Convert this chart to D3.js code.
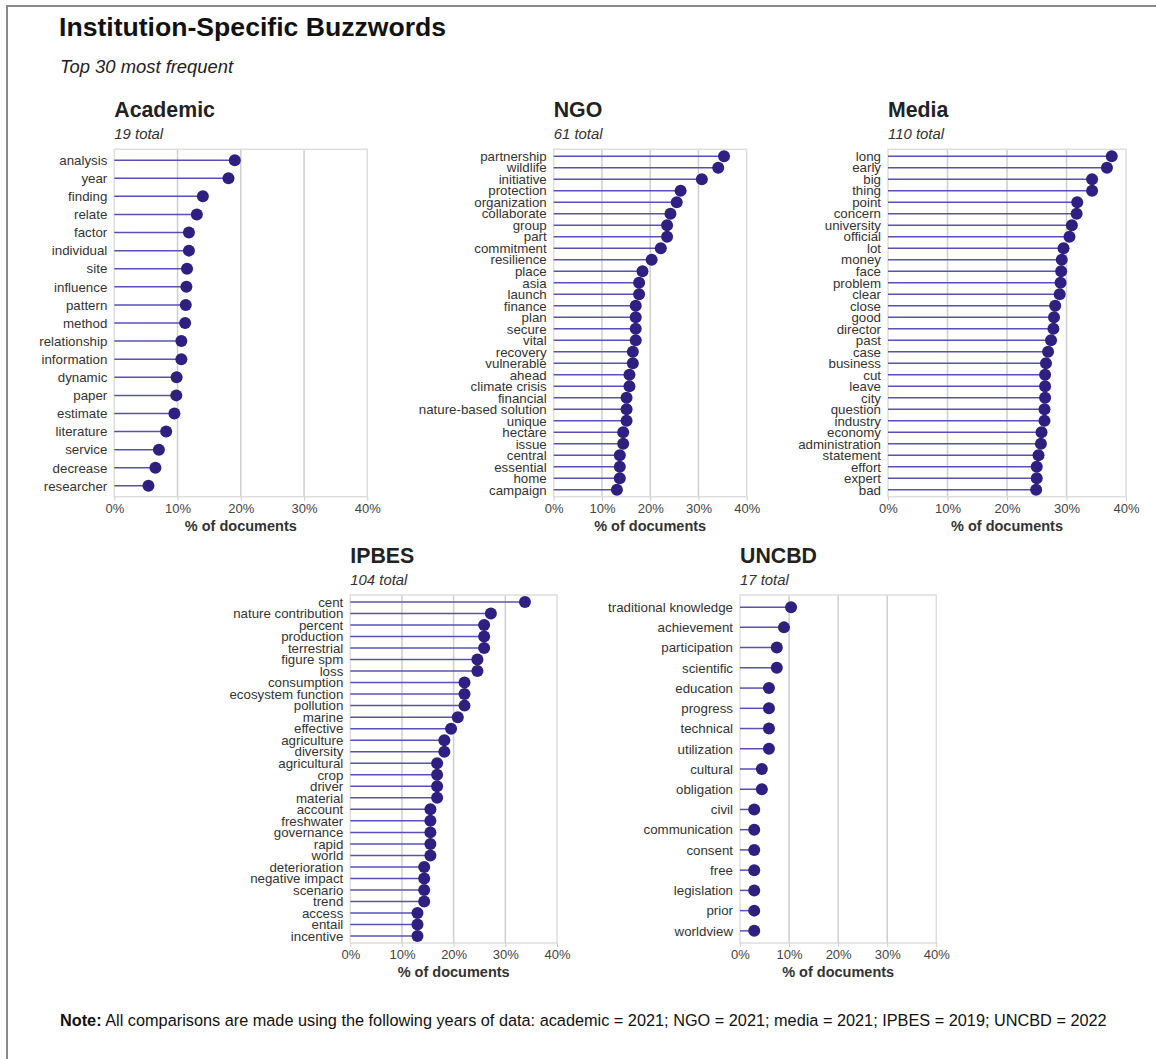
<!doctype html>
<html>
<head>
<meta charset="utf-8"/>
<title>Institution-Specific Buzzwords</title>
<script src="https://cdnjs.cloudflare.com/ajax/libs/d3/7.8.5/d3.min.js"></script>
<style>
  body { margin: 0; background: #fff; }
  svg { display: block; font-family: "Liberation Sans", Arial, sans-serif; }
</style>
</head>
<body>
<svg id="chart" width="1156" height="1059"></svg>
<script>
// ---- data ----
var academicWords = ["analysis","year","finding","relate","factor","individual","site","influence","pattern","method",
  "relationship","information","dynamic","paper","estimate","literature","service","decrease","researcher"];
var academicValues = [19.05,18.05,14.0,13.05,11.8,11.8,11.5,11.4,11.3,11.2,10.6,10.6,9.85,9.8,9.5,8.2,7.05,6.5,5.4];

var ngoWords = ["partnership","wildlife","initiative","protection","organization","collaborate","group","part","commitment","resilience",
  "place","asia","launch","finance","plan","secure","vital","recovery","vulnerable","ahead",
  "climate crisis","financial","nature-based solution","unique","hectare","issue","central","essential","home","campaign"];
var ngoValues = [35.3,34.1,30.7,26.3,25.5,24.2,23.5,23.5,22.2,20.3,18.4,17.7,17.7,17.0,17.0,17.0,17.0,16.4,16.4,15.7,
  15.7,15.1,15.1,15.1,14.4,14.4,13.7,13.7,13.7,13.1];

var mediaWords = ["long","early","big","thing","point","concern","university","official","lot","money",
  "face","problem","clear","close","good","director","past","case","business","cut",
  "leave","city","question","industry","economy","administration","statement","effort","expert","bad"];
var mediaValues = [37.6,36.8,34.3,34.3,31.8,31.7,30.9,30.5,29.5,29.2,29.1,29.0,28.85,28.1,27.9,27.8,27.4,26.9,26.55,26.4,
  26.4,26.4,26.3,26.3,25.8,25.7,25.3,25.0,25.0,24.9];

var ipbesWords = ["cent","nature contribution","percent","production","terrestrial","figure spm","loss","consumption","ecosystem function","pollution",
  "marine","effective","agriculture","diversity","agricultural","crop","driver","material","account","freshwater",
  "governance","rapid","world","deterioration","negative impact","scenario","trend","access","entail","incentive"];
var ipbesValues = [33.8,27.2,25.9,25.9,25.9,24.6,24.6,22.1,22.1,22.1,20.8,19.5,18.2,18.2,16.8,16.8,16.8,16.8,15.5,15.5,
  15.5,15.5,15.5,14.3,14.3,14.3,14.3,13.0,13.0,13.0];

var uncbdWords = ["traditional knowledge","achievement","participation","scientific","education","progress","technical","utilization",
  "cultural","obligation","civil","communication","consent","free","legislation","prior","worldview"];
var uncbdValues = [10.4,8.96,7.5,7.5,5.9,5.9,5.9,5.9,4.45,4.45,2.9,2.9,2.9,2.9,2.9,2.9,2.9];

var panelNames = ["Academic","NGO","Media","IPBES","UNCBD"];
var panelTotals = [19, 61, 110, 104, 17];
var xTicks = [0, 10, 20, 30, 40];

// ---- layout ----
var layout = [
  {x0: 114.3, x1: 367.3, top: 149.3, bottom: 496.7},
  {x0: 553.7, x1: 746.7, top: 149.3, bottom: 496.7},
  {x0: 888,   x1: 1126,  top: 149.3, bottom: 496.7},
  {x0: 350.3, x1: 557,   top: 595,   bottom: 943},
  {x0: 740,   x1: 936.3, top: 595,   bottom: 943}
];
var panelData = [
  [academicWords, academicValues],
  [ngoWords, ngoValues],
  [mediaWords, mediaValues],
  [ipbesWords, ipbesValues],
  [uncbdWords, uncbdValues]
];

var svg = d3.select("#chart");

// page frame (top + left rule)
svg.append("line").attr("x1", 7).attr("x2", 1156).attr("y1", 6).attr("y2", 6)
  .attr("stroke", "#8a8a8a").attr("stroke-width", 2);
svg.append("line").attr("x1", 7).attr("x2", 7).attr("y1", 5).attr("y2", 1059)
  .attr("stroke", "#8a8a8a").attr("stroke-width", 2);

svg.append("text").attr("x", 59).attr("y", 36)
  .style("font-size", "26.6px").style("font-weight", "bold").attr("fill", "#111")
  .text("Institution-Specific Buzzwords");
svg.append("text").attr("x", 60).attr("y", 73)
  .style("font-size", "18.4px").style("font-style", "italic").attr("fill", "#222")
  .text("Top 30 most frequent");

var dotColor = "#2e1f80";
var stemColor = "#5a50b4";

panelData.forEach(function (pd, i) {
  var words = pd[0], values = pd[1], L = layout[i];
  var rows = words.map(function (w, j) { return {word: w, value: values[j]}; });

  var xScale = d3.scaleLinear().domain([0, 40]).range([L.x0, L.x1]);
  var yScale = d3.scalePoint().domain(words).range([L.top, L.bottom]).padding(0.6);

  var g = svg.append("g").attr("class", "panel");

  // titles
  g.append("text").attr("x", L.x0).attr("y", L.top - 32)
    .style("font-size", "21.3px").style("font-weight", "bold").attr("fill", "#222")
    .text(panelNames[i]);
  g.append("text").attr("x", L.x0).attr("y", L.top - 10)
    .style("font-size", "14.9px").style("font-style", "italic").attr("fill", "#333")
    .text(panelTotals[i] + " total");

  // grid
  g.selectAll(".grid").data(xTicks.slice(1, 4)).enter().append("line")
    .attr("x1", function (d) { return xScale(d); })
    .attr("x2", function (d) { return xScale(d); })
    .attr("y1", L.top).attr("y2", L.bottom)
    .attr("stroke", "#cfcfcf").attr("stroke-width", 1.5);
  g.append("rect").attr("x", L.x0).attr("y", L.top)
    .attr("width", L.x1 - L.x0).attr("height", L.bottom - L.top)
    .attr("fill", "none").attr("stroke", "#dedede").attr("stroke-width", 1.5);

  // x axis
  var xAxis = d3.axisBottom(xScale).tickValues(xTicks)
    .tickFormat(function (d) { return d + "%"; }).tickSize(4).tickPadding(2);
  var ax = g.append("g").attr("transform", "translate(0," + L.bottom + ")").call(xAxis);
  ax.select(".domain").remove();
  ax.selectAll(".tick line").attr("stroke", "#cfcfcf");
  ax.selectAll(".tick text").attr("fill", "#444").attr("dy", "0.8em")
    .style("font-size", "13px").style("font-family", "'Liberation Sans', Arial, sans-serif");

  g.append("text").attr("x", (L.x0 + L.x1) / 2).attr("y", L.bottom + 34)
    .attr("text-anchor", "middle").style("font-size", "14.5px").style("font-weight", "bold")
    .attr("fill", "#333").text("% of documents");

  // y labels
  var yAxis = d3.axisLeft(yScale).tickSize(0).tickPadding(7);
  var ay = g.append("g").attr("transform", "translate(" + L.x0 + ",0)").call(yAxis);
  ay.select(".domain").remove();
  ay.selectAll(".tick text").attr("fill", "#333")
    .style("font-size", "13.3px").style("font-family", "'Liberation Sans', Arial, sans-serif");

  // lollipops
  g.selectAll(".stem").data(rows).enter().append("line")
    .attr("x1", xScale(0))
    .attr("x2", function (d) { return xScale(d.value); })
    .attr("y1", function (d) { return yScale(d.word); })
    .attr("y2", function (d) { return yScale(d.word); })
    .attr("stroke", stemColor).attr("stroke-width", 1.5);
  g.selectAll(".dot").data(rows).enter().append("circle")
    .attr("cx", function (d) { return xScale(d.value); })
    .attr("cy", function (d) { return yScale(d.word); })
    .attr("r", 6).attr("fill", dotColor);
});

// note
var note = svg.append("text").attr("x", 60).attr("y", 1026)
  .style("font-size", "16.3px").attr("fill", "#111");
note.append("tspan").style("font-weight", "bold").text("Note:");
note.append("tspan").text("  All comparisons are made using the following years of data: academic = 2021; NGO = 2021; media = 2021; IPBES = 2019; UNCBD = 2022");
</script>
</body>
</html>
